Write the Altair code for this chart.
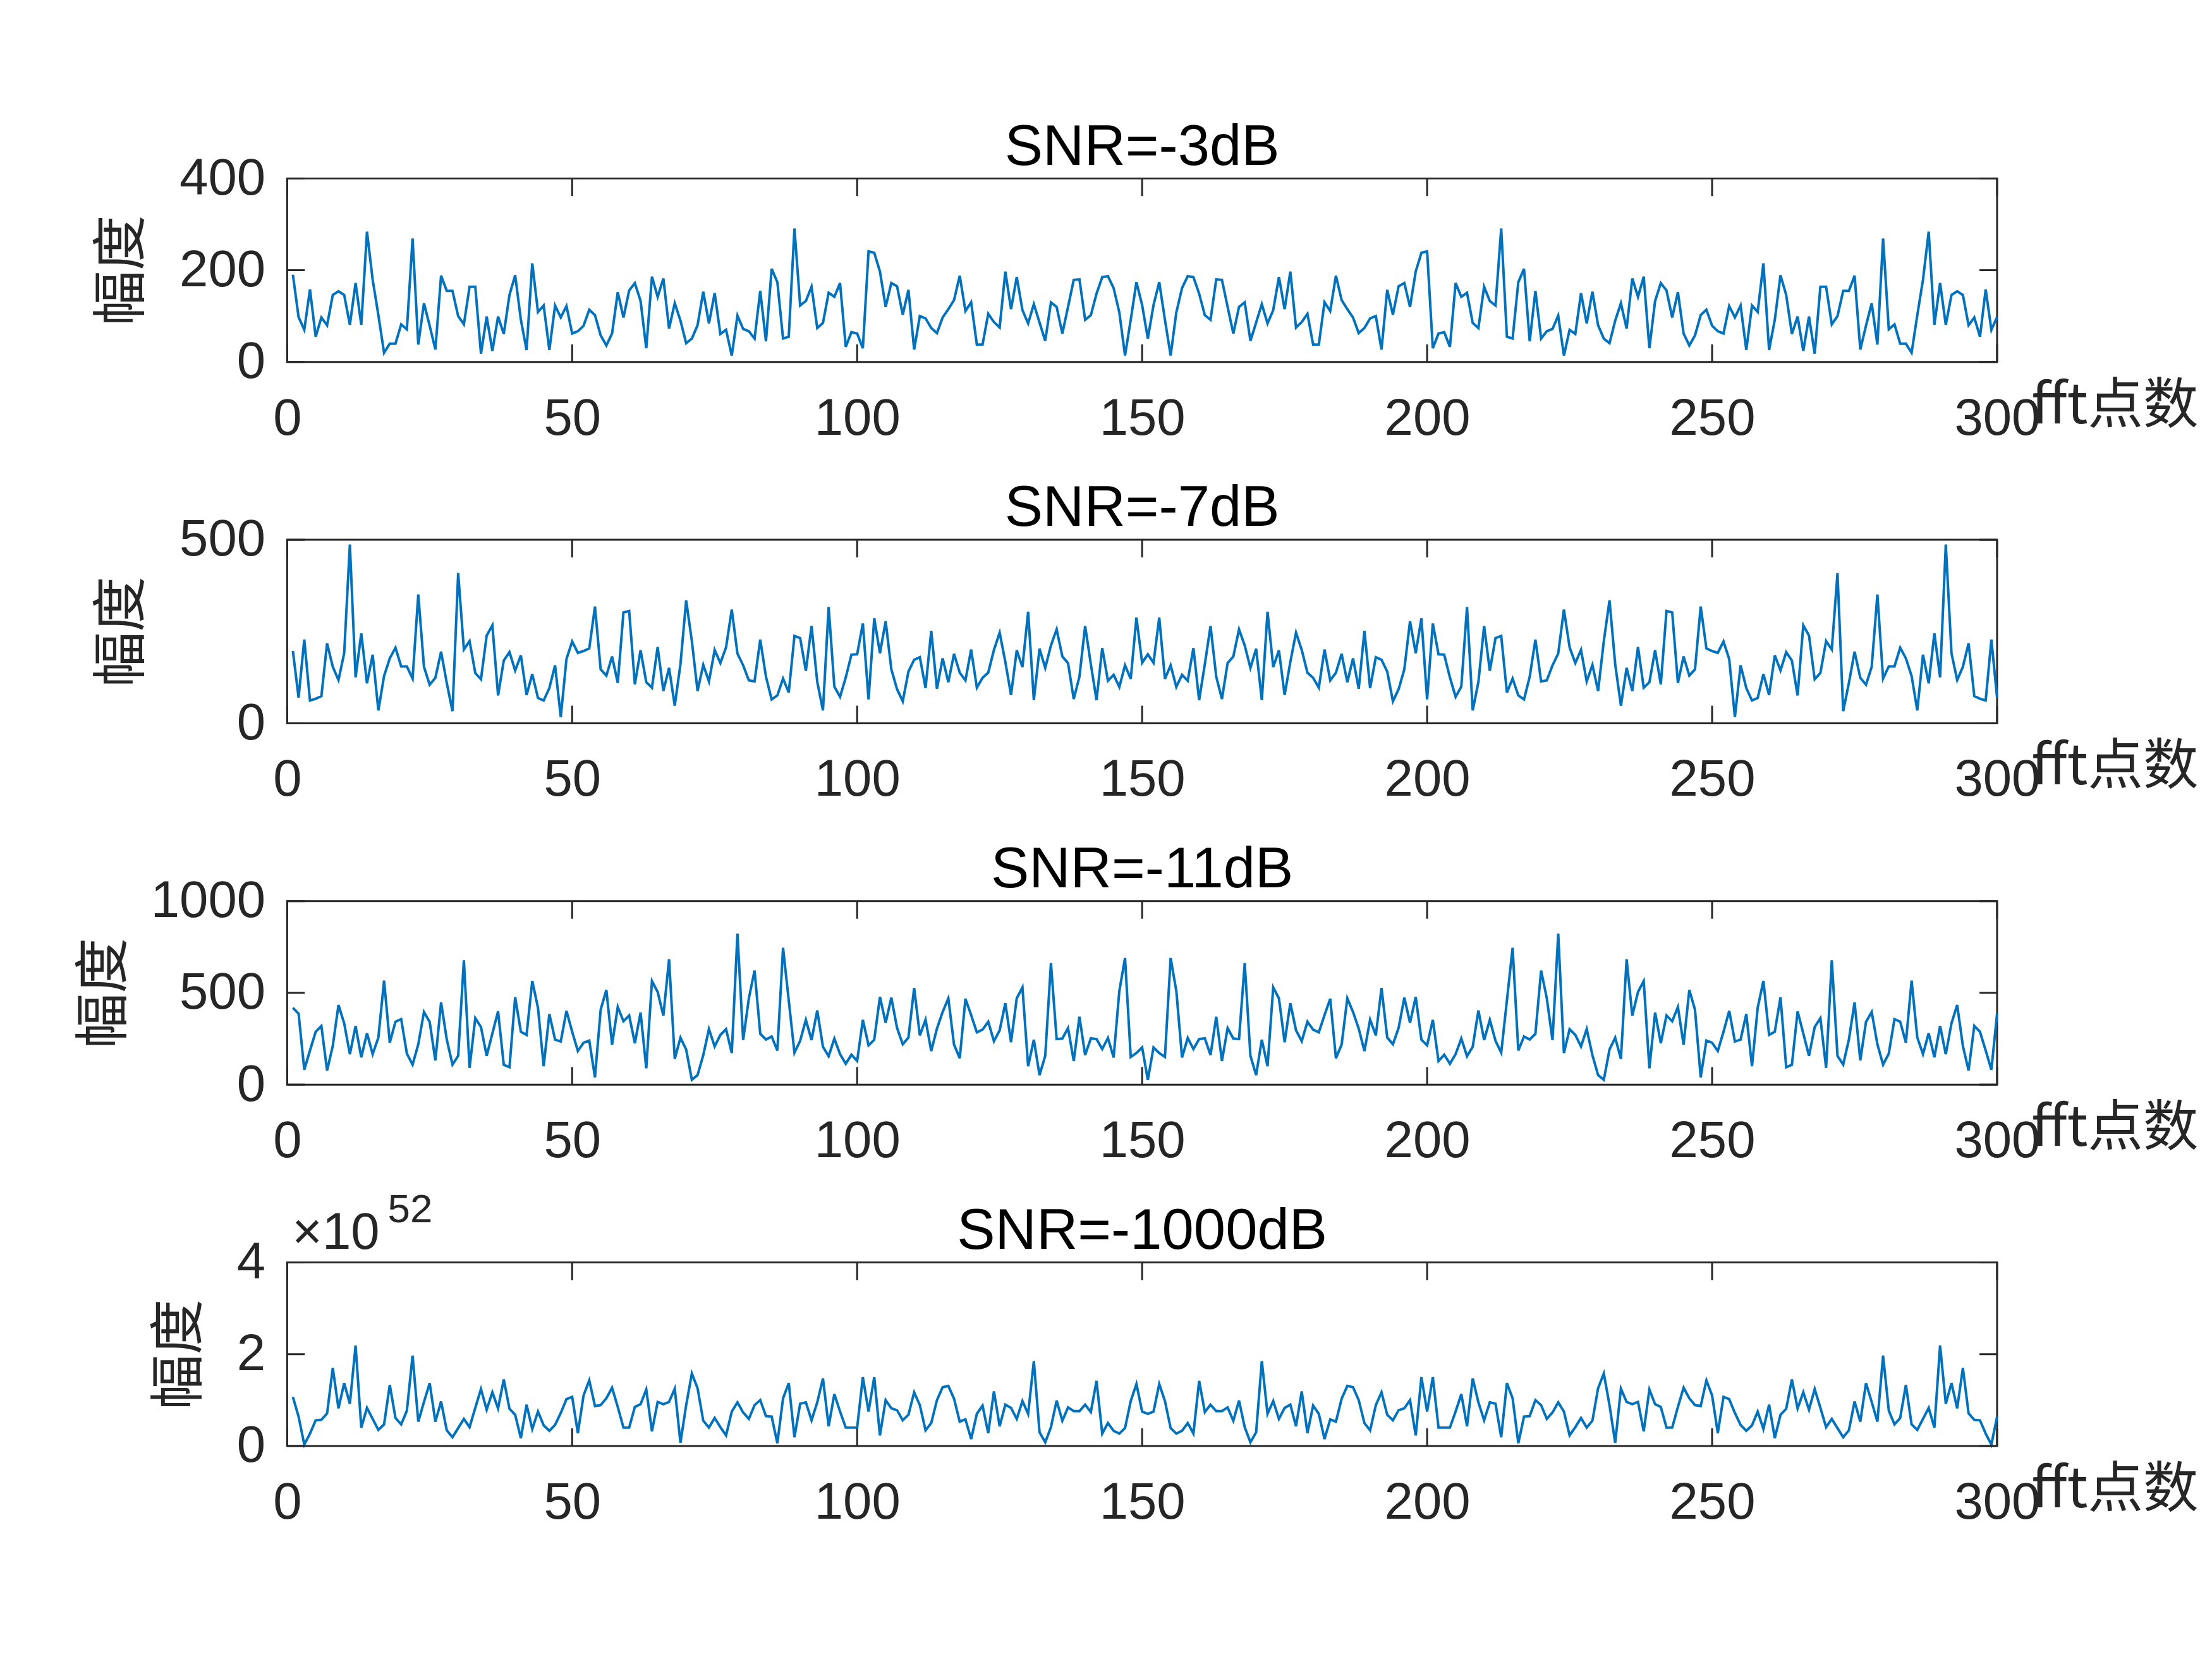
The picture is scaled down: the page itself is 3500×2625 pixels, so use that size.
import altair as alt
import pandas as pd

# ---------------- data ----------------
fft_bins = list(range(1, 301))
x_tick_values = [0, 50, 100, 150, 200, 250, 300]

titles = ["SNR=-3dB", "SNR=-7dB", "SNR=-11dB", "SNR=-1000dB"]
y_max = [400, 500, 1000, 4]
y_tick_values = [[0, 200, 400], [0, 500], [0, 500, 1000], [0, 2, 4]]
exponent_last_panel = "52"  # last panel values are in units of 10^52

# SNR = -3 dB, bins 1..151 and 152..300
amp_3db_lo = [190, 98, 70, 158, 55, 97, 80, 146, 154, 146,
              81, 172, 81, 284, 179, 102, 20, 40, 40, 82,
              71, 269, 38, 128, 79, 27, 188, 155, 155, 100,
              82, 164, 164, 18, 99, 24, 99, 61, 146, 189,
              92, 26, 215, 109, 123, 26, 123, 97, 122, 62,
              67, 79, 114, 102, 58, 36, 62, 152, 97, 156,
              172, 133, 30, 186, 142, 182, 73, 128, 90, 41,
              51, 80, 153, 84, 150, 61, 70, 14, 101, 72,
              67, 51, 155, 45, 203, 174, 51, 55, 291, 123,
              133, 164, 74, 85, 151, 142, 172, 33, 65, 62,
              30, 241, 238, 197, 120, 172, 165, 103, 157, 27,
              100, 95, 74, 63, 97, 115, 135, 188, 111, 130,
              38, 38, 105, 87, 75, 197, 115, 185, 113, 84,
              126, 86, 46, 130, 120, 62, 120, 179, 180, 92,
              102, 149, 185, 187, 161, 108, 14, 92, 174, 124,
              51]
amp_3db_hi = [124, 174, 92, 14, 108, 161, 187, 185, 149, 102,
              92, 180, 179, 120, 62, 120, 130, 46, 86, 126,
              84, 113, 185, 115, 197, 75, 87, 105, 38, 38,
              130, 111, 188, 135, 115, 97, 63, 74, 95, 100,
              27, 157, 103, 165, 172, 120, 197, 238, 241, 30,
              62, 65, 33, 172, 142, 151, 85, 74, 164, 133,
              123, 291, 55, 51, 174, 203, 45, 155, 51, 67,
              72, 101, 14, 70, 61, 150, 84, 153, 80, 51,
              41, 90, 128, 73, 182, 142, 186, 30, 133, 172,
              156, 97, 152, 62, 36, 58, 102, 114, 79, 67,
              62, 122, 97, 123, 26, 123, 109, 215, 26, 92,
              189, 146, 61, 99, 24, 99, 18, 164, 164, 82,
              100, 155, 155, 188, 27, 79, 128, 38, 269, 71,
              82, 40, 40, 20, 102, 179, 284, 81, 172, 81,
              146, 154, 146, 80, 97, 55, 158, 70, 98]

# SNR = -7 dB
amp_7db_lo = [197, 70, 228, 62, 67, 74, 218, 154, 118, 191,
              487, 125, 245, 109, 187, 35, 129, 177, 206, 155,
              155, 122, 351, 154, 105, 124, 195, 110, 33, 409,
              201, 224, 137, 120, 239, 267, 76, 171, 194, 144,
              185, 77, 134, 69, 62, 96, 158, 17, 175, 223,
              192, 197, 204, 318, 147, 130, 182, 110, 302, 306,
              106, 199, 112, 97, 208, 88, 151, 48, 161, 335,
              224, 88, 159, 114, 200, 164, 207, 310, 190, 158,
              117, 114, 228, 127, 65, 76, 122, 84, 238, 232,
              143, 265, 113, 35, 317, 100, 72, 125, 187, 188,
              272, 65, 286, 191, 278, 147, 93, 60, 141, 173,
              180, 96, 252, 94, 177, 112, 189, 138, 117, 201,
              97, 124, 138, 200, 247, 167, 77, 199, 153, 304,
              63, 203, 151, 212, 256, 182, 164, 66, 127, 265,
              161, 63, 205, 116, 132, 99, 158, 121, 288, 165,
              188]
amp_7db_hi = [165, 288, 121, 158, 99, 132, 116, 205, 63, 161,
              265, 127, 66, 164, 182, 256, 212, 151, 203, 63,
              304, 153, 199, 77, 167, 247, 200, 138, 124, 97,
              201, 117, 138, 189, 112, 177, 94, 252, 96, 180,
              173, 141, 60, 93, 147, 278, 191, 286, 65, 272,
              188, 187, 125, 72, 100, 317, 35, 113, 265, 143,
              232, 238, 84, 122, 76, 65, 127, 228, 114, 117,
              158, 190, 310, 207, 164, 200, 114, 159, 88, 224,
              335, 161, 48, 151, 88, 208, 97, 112, 199, 106,
              306, 302, 110, 182, 130, 147, 318, 204, 197, 192,
              223, 175, 17, 158, 96, 62, 69, 134, 77, 185,
              144, 194, 171, 76, 267, 239, 120, 137, 224, 201,
              409, 33, 110, 195, 124, 105, 154, 351, 122, 155,
              155, 206, 177, 129, 35, 187, 109, 245, 125, 487,
              191, 118, 154, 218, 74, 67, 62, 228, 70]

# SNR = -11 dB
amp_11db_lo = [419, 387, 81, 186, 288, 320, 77, 211, 434, 334,
               166, 320, 149, 280, 166, 257, 567, 229, 343, 357,
               169, 109, 220, 396, 342, 132, 448, 246, 109, 157,
               678, 91, 362, 314, 157, 279, 399, 108, 95, 476,
               288, 271, 565, 419, 100, 385, 245, 235, 402, 288,
               183, 228, 240, 40, 408, 516, 218, 423, 345, 377,
               226, 393, 89, 564, 505, 376, 683, 140, 256, 191,
               26, 52, 161, 303, 208, 271, 302, 172, 823, 243,
               470, 622, 277, 246, 262, 186, 746, 459, 174, 239,
               353, 243, 404, 206, 155, 251, 166, 114, 163, 129,
               353, 214, 245, 478, 337, 474, 309, 220, 257, 527,
               268, 354, 183, 305, 396, 470, 218, 144, 468, 379,
               285, 300, 343, 237, 296, 444, 231, 470, 530, 100,
               245, 52, 157, 662, 248, 251, 308, 129, 370, 161,
               252, 248, 194, 254, 148, 510, 690, 151, 172, 203,
               26]
amp_11db_hi = [203, 172, 151, 690, 510, 148, 254, 194, 248, 252,
               161, 370, 129, 308, 251, 248, 662, 157, 52, 245,
               100, 530, 470, 231, 444, 296, 237, 343, 300, 285,
               379, 468, 144, 218, 470, 396, 305, 183, 354, 268,
               527, 257, 220, 309, 474, 337, 478, 245, 214, 353,
               129, 163, 114, 166, 251, 155, 206, 404, 243, 353,
               239, 174, 459, 746, 186, 262, 246, 277, 622, 470,
               243, 823, 172, 302, 271, 208, 303, 161, 52, 26,
               191, 256, 140, 683, 376, 505, 564, 89, 393, 226,
               377, 345, 423, 218, 516, 408, 40, 240, 228, 183,
               288, 402, 235, 245, 385, 100, 419, 565, 271, 288,
               476, 95, 108, 399, 279, 157, 314, 362, 91, 678,
               157, 109, 246, 448, 132, 342, 396, 220, 109, 169,
               357, 343, 229, 567, 257, 166, 280, 149, 320, 166,
               334, 434, 211, 77, 320, 288, 186, 81, 387]

# SNR = -1000 dB (x 10^52)
amp_1000db_lo = [1.07, 0.64, 0.03, 0.27, 0.56, 0.57, 0.71, 1.70, 0.82, 1.37,
                 0.92, 2.19, 0.40, 0.83, 0.59, 0.35, 0.47, 1.33, 0.61, 0.47,
                 0.77, 1.97, 0.53, 0.96, 1.37, 0.53, 0.97, 0.34, 0.19, 0.39,
                 0.59, 0.41, 0.83, 1.24, 0.79, 1.17, 0.82, 1.45, 0.81, 0.68,
                 0.17, 0.90, 0.37, 0.75, 0.45, 0.33, 0.46, 0.72, 1.02, 1.07,
                 0.28, 1.10, 1.43, 0.87, 0.89, 1.04, 1.27, 0.85, 0.40, 0.40,
                 0.85, 0.91, 1.23, 0.32, 0.96, 0.91, 0.96, 1.25, 0.07, 0.89,
                 1.58, 1.26, 0.55, 0.40, 0.61, 0.41, 0.23, 0.75, 0.95, 0.73,
                 0.59, 0.89, 1.00, 0.65, 0.64, 0.06, 1.04, 1.37, 0.19, 0.92,
                 0.95, 0.56, 0.95, 1.47, 0.43, 1.13, 0.75, 0.40, 0.40, 0.40,
                 1.50, 0.75, 1.50, 0.23, 1.00, 0.82, 0.78, 0.56, 0.68, 1.17,
                 0.89, 0.34, 0.50, 1.00, 1.28, 1.31, 1.03, 0.53, 0.58, 0.15,
                 0.70, 0.88, 0.28, 1.19, 0.43, 0.90, 0.83, 0.59, 0.98, 0.70,
                 1.85, 0.30, 0.08, 0.41, 0.99, 0.55, 0.84, 0.76, 0.76, 0.90,
                 0.74, 1.42, 0.27, 0.50, 0.33, 0.27, 0.39, 0.98, 1.35, 0.75,
                 0.70]
amp_1000db_hi = [0.75, 1.35, 0.98, 0.39, 0.27, 0.33, 0.50, 0.27, 1.42, 0.74,
                 0.90, 0.76, 0.76, 0.84, 0.55, 0.99, 0.41, 0.08, 0.30, 1.85,
                 0.70, 0.98, 0.59, 0.83, 0.90, 0.43, 1.19, 0.28, 0.88, 0.70,
                 0.15, 0.58, 0.53, 1.03, 1.31, 1.28, 1.00, 0.50, 0.34, 0.89,
                 1.17, 0.68, 0.56, 0.78, 0.82, 1.00, 0.23, 1.50, 0.75, 1.50,
                 0.40, 0.40, 0.40, 0.75, 1.13, 0.43, 1.47, 0.95, 0.56, 0.95,
                 0.92, 0.19, 1.37, 1.04, 0.06, 0.64, 0.65, 1.00, 0.89, 0.59,
                 0.73, 0.95, 0.75, 0.23, 0.41, 0.61, 0.40, 0.55, 1.26, 1.58,
                 0.89, 0.07, 1.25, 0.96, 0.91, 0.96, 0.32, 1.23, 0.91, 0.85,
                 0.40, 0.40, 0.85, 1.27, 1.04, 0.89, 0.87, 1.43, 1.10, 0.28,
                 1.07, 1.02, 0.72, 0.46, 0.33, 0.45, 0.75, 0.37, 0.90, 0.17,
                 0.68, 0.81, 1.45, 0.82, 1.17, 0.79, 1.24, 0.83, 0.41, 0.59,
                 0.39, 0.19, 0.34, 0.97, 0.53, 1.37, 0.96, 0.53, 1.97, 0.77,
                 0.47, 0.61, 1.33, 0.47, 0.35, 0.59, 0.83, 0.40, 2.19, 0.92,
                 1.37, 0.82, 1.70, 0.71, 0.57, 0.56, 0.27, 0.03, 0.64]

series = [amp_3db_lo + amp_3db_hi, amp_7db_lo + amp_7db_hi,
          amp_11db_lo + amp_11db_hi, amp_1000db_lo + amp_1000db_hi]

# ---------------- styling ----------------
W, H = 2721, 292
FONT = "Liberation Sans"
CJK = "Noto Sans CJK SC"
LINE = "#0072BD"
AX = "#262626"
TICK_LEN = 28
LABEL_FS = 82
TITLE_FS = 91


def panel(title, values, ymax, yticks, exponent=None):
    df = pd.DataFrame({"bin": fft_bins, "amp": values})
    xs = alt.Scale(domain=[0, 300], nice=False, zero=False)
    ys = alt.Scale(domain=[0, ymax], nice=False, zero=False)
    x_axis = alt.Axis(values=x_tick_values, title="fft点数", format="d", ticks=False,
                      domain=False, grid=False, labelFont=FONT, labelFontSize=LABEL_FS,
                      labelColor=AX, labelPadding=50, labelFlush=False, labelOverlap=False,
                      labelLimit=0,
                      titleFont=CJK, titleFontSize=88, titleFontWeight="normal", titleColor=AX,
                      titleX=W + 54, titleY=97, titleAlign="left",
                      titleBaseline="alphabetic", titleAngle=0)
    y_axis = alt.Axis(values=yticks, title="幅度", format="d", ticks=False, domain=False,
                      grid=False, labelFont=FONT, labelFontSize=LABEL_FS, labelColor=AX,
                      labelPadding=35, labelOverlap=False, labelLimit=0, titleFont=CJK,
                      titleFontSize=88, titleFontWeight="normal", titleColor=AX,
                      titlePadding=45)
    line = alt.Chart(df).mark_line(color=LINE, strokeWidth=4).encode(
        x=alt.X("bin:Q", scale=xs, axis=x_axis, title="fft点数"),
        y=alt.Y("amp:Q", scale=ys, axis=y_axis, title="幅度"),
    )
    xt = pd.DataFrame({"bin": x_tick_values})
    yt = pd.DataFrame({"amp": yticks})
    rule = dict(color=AX, strokeWidth=3)
    bottom = alt.Chart(xt).mark_rule(**rule).encode(
        x=alt.X("bin:Q", scale=xs, axis=x_axis, title="fft点数"),
        y=alt.value(H), y2=alt.value(H - TICK_LEN))
    top = alt.Chart(xt).mark_rule(**rule).encode(
        x=alt.X("bin:Q", scale=xs, axis=x_axis, title="fft点数"),
        y=alt.value(0), y2=alt.value(TICK_LEN))
    left = alt.Chart(yt).mark_rule(**rule).encode(
        y=alt.Y("amp:Q", scale=ys, axis=y_axis, title="幅度"),
        x=alt.value(0), x2=alt.value(TICK_LEN))
    right = alt.Chart(yt).mark_rule(**rule).encode(
        y=alt.Y("amp:Q", scale=ys, axis=y_axis, title="幅度"),
        x=alt.value(W - TICK_LEN), x2=alt.value(W))
    heading = alt.Chart(pd.DataFrame({"s": [title]})).mark_text(
        font=FONT, fontSize=TITLE_FS, color="#000000", align="center", baseline="alphabetic"
    ).encode(text="s:N", x=alt.value(W / 2), y=alt.value(-22))
    layers = [line, bottom, top, left, right, heading]
    if exponent is not None:
        base = alt.Chart(pd.DataFrame({"s": ["×10"]})).mark_text(
            font=FONT, fontSize=LABEL_FS, color=AX, align="left", baseline="alphabetic"
        ).encode(text="s:N", x=alt.value(8), y=alt.value(-22))
        sup = alt.Chart(pd.DataFrame({"s": [exponent]})).mark_text(
            font=FONT, fontSize=64, color=AX, align="left", baseline="alphabetic"
        ).encode(text="s:N", x=alt.value(160), y=alt.value(-64))
        layers += [base, sup]
    return alt.layer(*layers).properties(width=W, height=H)


panels = []
for i in range(4):
    panels.append(panel(titles[i], series[i], y_max[i], y_tick_values[i],
                        exponent_last_panel if i == 3 else None))

chart = alt.vconcat(*panels, spacing=283, bounds="flush").properties(
    padding={"left": 122, "top": 180, "right": 20, "bottom": 20},
    background="white",
).configure_view(stroke=AX, strokeWidth=3)

chart.save("out.html", embed_options={"renderer": "svg", "actions": False})
